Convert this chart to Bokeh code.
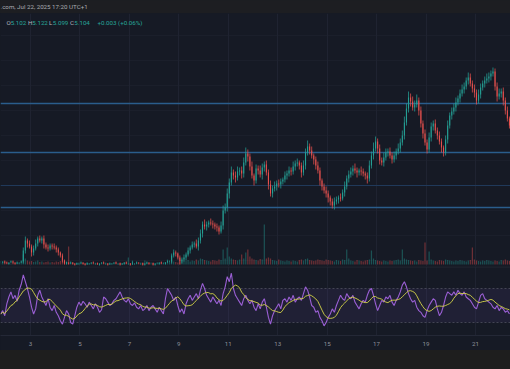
import pandas as pd
from bokeh.plotting import figure
from bokeh.layouts import column
from bokeh.models import Range1d, FixedTicker, Span, BoxAnnotation, Label, ColumnDataSource
from bokeh.embed import file_html
from bokeh.resources import INLINE

# ---------------- data (2-hour candles) ----------------
close = [
    3.73, 3.74, 3.73, 3.72, 3.73, 3.74, 3.73, 3.72, 3.73, 3.73,
    3.74, 3.85, 3.95, 3.92, 3.89, 3.83, 3.87, 3.92, 3.97, 3.95,
    3.97, 3.91, 3.88, 3.87, 3.90, 3.89, 3.88, 3.86, 3.83, 3.80,
    3.75, 3.72, 3.73, 3.72, 3.73, 3.72, 3.71, 3.72, 3.72, 3.73,
    3.72, 3.71, 3.72, 3.72, 3.73, 3.72, 3.72, 3.71, 3.72, 3.73,
    3.72, 3.72, 3.71, 3.72, 3.72, 3.73, 3.72, 3.72, 3.71, 3.72,
    3.73, 3.72, 3.72, 3.71, 3.72, 3.72, 3.73, 3.72, 3.72, 3.71,
    3.72, 3.73, 3.72, 3.72, 3.71, 3.72, 3.72, 3.73, 3.72, 3.72,
    3.73, 3.74, 3.74, 3.80, 3.83, 3.82, 3.78, 3.74, 3.76, 3.78,
    3.81, 3.85, 3.88, 3.91, 3.92, 3.89, 3.95, 4.02, 4.11, 4.09,
    4.11, 4.13, 4.12, 4.11, 4.09, 4.08, 4.04, 4.10, 4.25, 4.28,
    4.42, 4.53, 4.63, 4.60, 4.58, 4.64, 4.65, 4.62, 4.73, 4.82,
    4.79, 4.69, 4.60, 4.55, 4.67, 4.65, 4.61, 4.68, 4.71, 4.63,
    4.51, 4.42, 4.47, 4.49, 4.52, 4.51, 4.54, 4.56, 4.60, 4.62,
    4.65, 4.64, 4.69, 4.72, 4.73, 4.70, 4.63, 4.70, 4.83, 4.89,
    4.85, 4.80, 4.76, 4.70, 4.65, 4.55, 4.49, 4.45, 4.42, 4.38,
    4.34, 4.30, 4.34, 4.36, 4.38, 4.37, 4.43, 4.49, 4.57, 4.61,
    4.64, 4.67, 4.65, 4.63, 4.65, 4.64, 4.62, 4.60, 4.57, 4.70,
    4.80, 4.87, 4.94, 4.87, 4.75, 4.73, 4.78, 4.83, 4.84, 4.80,
    4.76, 4.80, 4.84, 4.87, 4.93, 5.00, 5.13, 5.27, 5.38, 5.34,
    5.28, 5.31, 5.35, 5.25, 5.12, 5.02, 4.93, 4.86, 4.98, 5.09,
    5.12, 5.05, 5.00, 4.94, 4.88, 4.83, 4.96, 5.10, 5.20, 5.24,
    5.28, 5.33, 5.37, 5.42, 5.46, 5.49, 5.55, 5.58, 5.52, 5.47,
    5.43, 5.35, 5.41, 5.48, 5.52, 5.55, 5.57, 5.59, 5.62, 5.64,
    5.49, 5.39, 5.42, 5.44, 5.35, 5.25, 5.17, 5.10,
]
# wick lengths above / below the body, in cents
wick_up = [
    1, 0, 1, 1, 0, 1, 1, 0, 1, 0,
    1, 3, 4, 2, 3, 2, 3, 4, 2, 3,
    2, 3, 2, 3, 2, 2, 3, 2, 2, 1,
    2, 1, 1, 0, 1, 0, 0, 1, 0, 1,
    0, 0, 1, 0, 0, 1, 0, 1, 0, 0,
    1, 0, 0, 1, 0, 0, 1, 0, 1, 0,
    0, 1, 0, 0, 2, 0, 1, 0, 0, 1,
    0, 1, 0, 0, 1, 0, 1, 0, 1, 1,
    0, 1, 1, 2, 3, 2, 1, 2, 2, 3,
    2, 3, 2, 3, 2, 4, 3, 4, 3, 5,
    3, 2, 4, 3, 2, 3, 2, 4, 5, 4,
    5, 4, 6, 3, 4, 5, 3, 4, 5, 6,
    4, 3, 5, 2, 4, 3, 5, 4, 3, 4,
    3, 4, 3, 5, 3, 4, 3, 2, 4, 3,
    4, 3, 5, 3, 4, 2, 3, 5, 4, 6,
    3, 4, 2, 3, 4, 3, 2, 3, 4, 3,
    2, 3, 4, 3, 2, 4, 3, 5, 3, 4,
    4, 3, 5, 3, 2, 4, 3, 2, 3, 5,
    4, 6, 5, 3, 4, 3, 5, 4, 3, 4,
    3, 4, 3, 5, 4, 5, 6, 5, 6, 4,
    5, 4, 6, 3, 4, 3, 4, 3, 5, 4,
    3, 4, 3, 4, 3, 2, 4, 5, 3, 4,
    4, 5, 3, 4, 5, 4, 3, 5, 4, 3,
    4, 3, 5, 4, 3, 4, 5, 4, 3, 4,
    3, 4, 5, 3, 4, 3, 4, 2,
]
wick_dn = [
    0, 1, 1, 0, 1, 0, 1, 1, 0, 1,
    0, 2, 3, 4, 2, 4, 3, 2, 3, 2,
    3, 4, 2, 3, 2, 3, 2, 3, 3, 2,
    2, 1, 1, 1, 0, 1, 1, 0, 1, 0,
    1, 1, 0, 1, 0, 0, 1, 0, 1, 0,
    0, 1, 1, 0, 1, 0, 0, 1, 1, 0,
    1, 0, 1, 1, 0, 1, 0, 0, 1, 1,
    1, 0, 1, 0, 1, 1, 0, 1, 0, 0,
    1, 0, 1, 2, 2, 3, 2, 3, 2, 2,
    3, 2, 3, 2, 3, 2, 4, 3, 4, 3,
    4, 3, 2, 4, 3, 4, 3, 2, 4, 3,
    4, 5, 3, 4, 5, 3, 4, 5, 4, 3,
    5, 4, 3, 5, 3, 4, 3, 5, 4, 3,
    5, 3, 4, 3, 4, 3, 4, 3, 3, 4,
    3, 4, 3, 4, 3, 4, 5, 3, 4, 3,
    4, 3, 5, 4, 3, 5, 4, 3, 4, 5,
    4, 3, 4, 3, 4, 3, 2, 4, 3, 4,
    3, 4, 3, 5, 3, 4, 3, 4, 5, 3,
    3, 4, 3, 5, 4, 3, 4, 3, 4, 3,
    4, 3, 4, 3, 4, 3, 4, 3, 4, 5,
    3, 4, 3, 5, 4, 5, 3, 4, 3, 4,
    4, 3, 4, 3, 5, 4, 3, 4, 3, 4,
    3, 4, 3, 4, 3, 4, 3, 4, 3, 4,
    5, 4, 3, 4, 3, 4, 3, 4, 4, 3,
    4, 5, 3, 4, 5, 4, 3, 3,
]
volume = [
    15, 10, 20, 12, 15, 10, 18, 12, 15, 20,
    25, 100, 60, 40, 30, 35, 25, 30, 40, 25,
    30, 20, 25, 30, 20, 25, 20, 30, 25, 35,
    40, 30, 25, 180, 15, 20, 10, 15, 20, 12,
    15, 10, 20, 15, 12, 10, 18, 15, 10, 12,
    15, 20, 12, 10, 15, 12, 18, 10, 15, 12,
    20, 15, 70, 15, 40, 12, 15, 10, 20, 15,
    40, 15, 12, 20, 15, 10, 18, 12, 20, 15,
    25, 50, 20, 35, 30, 25, 20, 25, 30, 40,
    35, 45, 30, 40, 35, 50, 40, 60, 55, 45,
    40, 35, 30, 45, 40, 35, 50, 45, 150, 60,
    170, 80, 60, 50, 45, 40, 50, 100, 60, 120,
    150, 80, 60, 50, 45, 40, 55, 50, 400, 60,
    70, 60, 45, 40, 35, 50, 40, 35, 30, 40,
    35, 30, 40, 35, 30, 45, 50, 40, 55, 60,
    45, 40, 35, 40, 50, 45, 40, 35, 50, 45,
    40, 35, 30, 45, 40, 35, 50, 45, 150, 60,
    40, 35, 30, 45, 40, 35, 30, 40, 45, 50,
    140, 60, 45, 40, 35, 30, 40, 35, 30, 40,
    35, 40, 45, 50, 40, 150, 60, 50, 45, 40,
    35, 40, 30, 45, 40, 35, 220, 40, 130, 50,
    40, 35, 30, 45, 40, 35, 50, 45, 40, 35,
    30, 40, 35, 45, 40, 35, 30, 40, 45, 170,
    50, 40, 35, 30, 40, 35, 45, 40, 35, 30,
    40, 35, 30, 45, 40, 50, 40, 35,
]
rsi = [
    40, 44, 38, 52, 60, 66, 58, 62, 55, 68,
    75, 86, 78, 70, 60, 48, 40, 46, 62, 68,
    60, 55, 50, 58, 48, 44, 50, 42, 38, 32,
    28, 36, 44, 40, 30, 28, 38, 48, 54, 50,
    55, 52, 48, 54, 50, 46, 52, 48, 42, 45,
    60, 58, 54, 50, 52, 56, 58, 62, 66, 60,
    56, 54, 58, 52, 50, 53, 48, 46, 50, 44,
    46, 50, 44, 48, 50, 46, 42, 48, 44, 40,
    58, 70, 66, 62, 56, 60, 50, 42, 46, 40,
    52, 58, 62, 56, 60, 64, 58, 68, 76, 70,
    62, 58, 54, 60, 56, 52, 56, 50, 64, 72,
    84, 78, 88, 70, 62, 58, 54, 50, 58, 62,
    56, 52, 56, 48, 44, 52, 46, 54, 58, 48,
    36, 28, 38, 44, 48, 52, 46, 56, 58, 54,
    60, 56, 62, 54, 58, 60, 56, 64, 72, 68,
    60, 50, 48, 42, 44, 36, 32, 26, 30, 36,
    40, 46, 42, 50, 56, 62, 58, 56, 64, 60,
    58, 62, 54, 50, 46, 52, 56, 54, 62, 68,
    70, 62, 52, 44, 50, 56, 54, 60, 58, 62,
    54, 50, 56, 60, 66, 74, 78, 72, 64, 58,
    54, 56, 48, 44, 42, 38, 36, 44, 50, 54,
    58, 56, 46, 38, 42, 50, 60, 66, 64, 62,
    66, 62, 68, 64, 62, 66, 60, 58, 56, 52,
    48, 46, 54, 62, 64, 58, 56, 54, 52, 48,
    46, 50, 44, 48, 46, 42, 44, 40,
]
levels = [5.32, 4.83, 4.50, 4.28]          # drawn horizontal lines
level_main = [True, True, False, True]
day_ticks = [3, 5, 7, 9, 11, 13, 15, 17, 19, 21]
header_text = ".com, Jul 22, 2025 17:20 UTC+1"
ohlc_labels = ["O", "H", "L", "C"]
ohlc_values = ["5.102", "5.122", "5.099", "5.104"]
change_text = "+0.003 (+0.06%)"

n = len(close)
assert len(wick_up) == n and len(wick_dn) == n and len(volume) == n and len(rsi) == n

times = pd.date_range("2025-07-01 19:00", periods=n, freq="2h")
xs = list(times.day + times.hour / 24 + times.minute / 1440)
opens = [close[0]] + close[:-1]
highs = [max(o, c) + u / 100 for o, c, u in zip(opens, close, wick_up)]
lows = [min(o, c) - d / 100 for o, c, d in zip(opens, close, wick_dn)]
UP, DN = "#26a69a", "#ef5350"
colors = [UP if c >= o else DN for o, c in zip(opens, close)]
rsi_ma = list(pd.Series(rsi, dtype=float).rolling(7, min_periods=1).mean())

src = ColumnDataSource(dict(x=xs, open=opens, close=close, high=highs, low=lows,
                            vol=volume, color=colors, rsi=rsi, ma=rsi_ma))

# ---------------- layout constants ----------------
W = 510
BG = "#161a25"
GRID = "#1f2331"
X0, X1 = 1.786, 22.417
FONT = "Roboto"
FS = "6.2px"

def base_fig(h, bg, **kw):
    return figure(width=W, height=h, output_backend="svg", toolbar_location=None,
                  x_range=Range1d(X0, X1), min_border=0, background_fill_color=bg,
                  border_fill_color=bg, outline_line_color=None,
                  styles={"background-color": bg}, **kw)

# header bar
head = base_fig(13, "#1d1e22", x_axis_location=None, y_axis_location=None)
head.xgrid.visible = False
head.ygrid.visible = False
head.add_layout(Label(x=0, y=7, x_units="screen", y_units="screen", text=header_text,
                      text_font=FONT, text_font_size=FS, text_color="#a9abb1",
                      text_baseline="middle"))

# main price pane
p = base_fig(253, BG, y_range=Range1d(3.69, 6.22),
             x_axis_location=None, y_axis_location=None)
p.xgrid.ticker = FixedTicker(ticks=day_ticks)
p.xgrid.grid_line_color = GRID
p.ygrid.ticker = FixedTicker(ticks=[3.75, 4.0, 4.25, 4.5, 4.75, 5.0, 5.25, 5.5, 5.75, 6.0])
p.ygrid.grid_line_color = GRID
p.ygrid.grid_line_alpha = 0.6
p.extra_y_ranges = {"vol": Range1d(-20, 2510)}

p.vbar(x="x", top="vol", bottom=0, width=0.05, fill_color="color", line_color=None,
       fill_alpha=0.4, y_range_name="vol", source=src)
for lv, main in zip(levels, level_main):
    p.add_layout(Span(location=lv, dimension="width", level="underlay",
                      line_color="#2a5d8c" if main else "#20395a",
                      line_width=1.4 if main else 1.1))
p.segment(x0="x", x1="x", y0="low", y1="high", line_color="color", line_width=0.9,
          line_alpha=0.8, source=src)
p.vbar(x="x", top="open", bottom="close", width=0.045, fill_color="color",
       line_color=None, fill_alpha=0.85, source=src)

ty = 244
lab_x = [6, 27.5, 48.5, 69.5]
val_x = [10.2, 31.8, 52.3, 73.8]
for lx, vx, l, v in zip(lab_x, val_x, ohlc_labels, ohlc_values):
    p.add_layout(Label(x=lx, y=ty, x_units="screen", y_units="screen", text=l,
                       text_font=FONT, text_font_size=FS, text_color="#b2b5be",
                       text_baseline="middle"))
    p.add_layout(Label(x=vx, y=ty, x_units="screen", y_units="screen", text=v,
                       text_font=FONT, text_font_size=FS, text_color=UP,
                       text_baseline="middle"))
p.add_layout(Label(x=97, y=ty, x_units="screen", y_units="screen", text=change_text,
                   text_font=FONT, text_font_size=FS, text_color=UP,
                   text_baseline="middle"))

# RSI pane with time axis
r = base_fig(84, BG, y_range=Range1d(14.7, 95.9), x_axis_location="below",
             y_axis_location=None, min_border_bottom=15)
r.xgrid.ticker = FixedTicker(ticks=day_ticks)
r.xgrid.grid_line_color = GRID
r.ygrid.visible = False
r.xaxis.ticker = FixedTicker(ticks=day_ticks)
r.xaxis.major_tick_out = 0
r.xaxis.major_tick_in = 0
r.xaxis.minor_tick_out = 0
r.xaxis.minor_tick_in = 0
r.xaxis.axis_line_color = "#242836"
r.xaxis.major_label_standoff = 6
r.xaxis.major_label_text_font = FONT
r.xaxis.major_label_text_font_size = FS
r.xaxis.major_label_text_color = "#8e919a"
r.add_layout(BoxAnnotation(bottom=30, top=70, fill_color="#7e57c2", fill_alpha=0.1,
                           line_color=None, level="underlay"))
for lv in (70, 30):
    r.add_layout(Span(location=lv, dimension="width", line_color="#787b86",
                      line_alpha=0.45, line_dash="2 2", line_width=1, level="underlay"))
r.add_layout(Span(location=95.4, dimension="width", line_color="#262a36", line_width=1))
r.line(x="x", y="rsi", line_color="#9a5fd4", line_width=1.1, source=src)
r.line(x="x", y="ma", line_color="#d6d64a", line_width=0.9, source=src)

# bottom strip
foot = base_fig(19, "#1e1e1e", x_axis_location=None, y_axis_location=None)
foot.xgrid.visible = False
foot.ygrid.visible = False

layout = column(head, p, r, foot, spacing=0, styles={"background-color": BG})
open("out.html", "w").write(file_html(layout, INLINE))
